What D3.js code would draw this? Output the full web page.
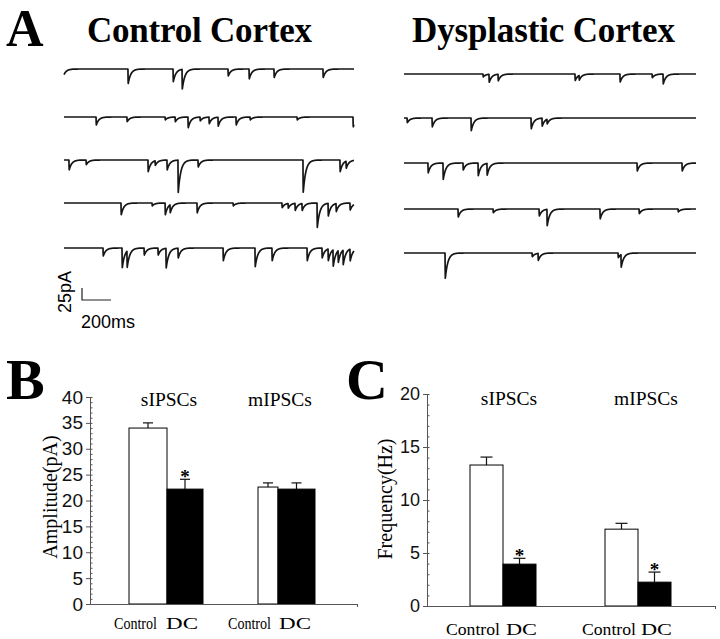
<!DOCTYPE html>
<html><head><meta charset="utf-8">
<script src="https://cdn.jsdelivr.net/npm/d3@7"></script>
<style>body{margin:0;background:#fff}svg{display:block}</style>
</head><body>
<svg id="fig" width="720" height="639"></svg>
<script>
// ================= DATA =================
const sweepDurationMs = 2000;
const controlSweeps = [
  [[-15,25],[441,31],[752,27],[814,42],[1131,15],[1276,21],[1448,18],[1786,18]],
  [[221,17],[434,10],[697,6],[766,10],[855,23],[938,8],[1000,14],[1062,19],[1186,17],[1283,6],[1607,6],[1993,21]],
  [[34,21],[152,10],[579,25],[628,10],[710,21],[786,69],[924,15],[1648,69],[1903,25],[1945,15]],
  [[393,25],[607,6],[697,25],[731,17],[917,21],[1166,6],[1503,10],[1545,10],[1593,15],[1641,15],[1745,52],[1821,27],[1876,17],[1972,15]],
  [[269,17],[400,42],[434,35],[552,15],[648,15],[703,42],[786,21],[1097,27],[1317,40],[1434,27],[1676,27],[1779,21],[1821,25],[1855,35],[1890,25],[1924,31],[1972,25]]
];
const dysplasticSweeps = [
  [[541,6],[582,17],[644,14],[1171,14],[1199,10],[1479,17],[1699,8],[1774,21]],
  [[21,10],[192,19],[459,27],[870,23],[945,17],[979,10]],
  [[164,21],[267,35],[404,15],[507,27],[568,25],[1596,17],[1904,17]],
  [[370,17],[610,8],[925,15],[979,35],[1342,21],[1610,10],[1877,6]],
  [[281,54],[877,8],[918,15],[1466,10],[1486,27]]
];
const scaleBarMs = 200;
const scaleBarPA = 25;

// Panels B and C: bar data (order: sIPSCs Control, sIPSCs DC, mIPSCs Control, mIPSCs DC)
const groups = ["sIPSCs", "mIPSCs"];
const conditions = ["Control", "DC"];
const amplitudeMean = [34.0, 22.2, 22.6, 22.2];
const amplitudeSem  = [1.0, 1.9, 0.8, 1.2];
const amplitudeSig  = [false, true, false, false];
const frequencyMean = [13.3, 3.95, 7.25, 2.25];
const frequencySem  = [0.75, 0.55, 0.55, 0.95];
const frequencySig  = [false, true, false, true];
const amplitudeTicks = [0, 5, 10, 15, 20, 25, 30, 35, 40];
const frequencyTicks = [0, 5, 10, 15, 20];

// ================= DRAWING =================
const svg = d3.select("#fig");
const SERIF = "'Liberation Serif','Times New Roman',serif";
const SANS = "'Liberation Sans',Arial,sans-serif";

// ---- Panel A ----
svg.append("text").attr("x", 6).attr("y", 46).attr("font-family", SERIF)
  .attr("font-weight", "bold").attr("font-size", 52).text("A");
svg.append("text").attr("x", 87).attr("y", 42).attr("font-family", SERIF)
  .attr("font-weight", "bold").attr("font-size", 35).attr("textLength", 225).text("Control Cortex");
svg.append("text").attr("x", 412).attr("y", 42).attr("font-family", SERIF)
  .attr("font-weight", "bold").attr("font-size", 35).attr("textLength", 263).text("Dysplastic Cortex");

const tau = 18, rise = 1.5;
function current(t, events) {
  let v = 0;
  for (const [t0, a] of events) {
    const dt = t - t0;
    if (dt < 0) continue;
    v += dt < rise ? a * dt / rise : a * Math.exp(-(dt - rise) / tau);
  }
  return v;
}
const sampleTimes = d3.range(0, sweepDurationMs + 1, 1);
const ampPx = d3.scaleLinear().domain([0, scaleBarPA]).range([0, 12]);

function drawSweeps(sweeps, xRange, baselines) {
  const x = d3.scaleLinear().domain([0, sweepDurationMs]).range(xRange);
  sweeps.forEach((ev, i) => {
    const line = d3.line().x(t => x(t)).y(t => baselines[i] + ampPx(current(t, ev)));
    svg.append("path").attr("d", line(sampleTimes)).attr("fill", "none")
      .attr("stroke", "#151515").attr("stroke-width", 1.7).attr("stroke-linejoin", "round");
  });
  return x;
}
const xCtrl = drawSweeps(controlSweeps, [64, 354], [69, 117, 160, 203, 248]);
drawSweeps(dysplasticSweeps, [404, 696], [74, 118, 163, 209, 253]);

// scale bar
const sbX = 82, sbY = 300;
const sbW = xCtrl(scaleBarMs) - xCtrl(0), sbH = ampPx(scaleBarPA);
svg.append("path").attr("d", `M${sbX},${sbY - sbH}V${sbY}H${sbX + sbW}`)
  .attr("fill", "none").attr("stroke", "#222").attr("stroke-width", 1.2);
svg.append("text").attr("transform", `translate(71,292) rotate(-90)`).attr("text-anchor", "middle")
  .attr("font-family", SANS).attr("font-size", 18).text(scaleBarPA + "pA");
svg.append("text").attr("x", 81).attr("y", 328).attr("font-family", SANS)
  .attr("font-size", 18).text(scaleBarMs + "ms");

// ---- Bar panels ----
function barPanel(o) {
  const g = svg.append("g");
  const y = d3.scaleLinear().domain(o.domain).range([o.y0, o.y1]);
  const keys = [];
  groups.forEach(gr => conditions.forEach(c => keys.push(gr + "|" + c)));
  const xL = d3.scaleOrdinal().domain(keys).range(o.left);
  const xR = d3.scaleOrdinal().domain(keys).range(o.right);
  const xLab = d3.scaleOrdinal().domain(keys).range(o.labelX);
  const xGroup = d3.scaleOrdinal().domain(groups).range(o.groupX);

  keys.forEach((k, i) => {
    const c = k.split("|")[1];
    const cx = (xL(k) + xR(k)) / 2;
    g.append("line").attr("x1", cx).attr("x2", cx).attr("y1", y(o.mean[i])).attr("y2", y(o.mean[i] + o.sem[i]))
      .attr("stroke", "#111").attr("stroke-width", 1.2);
    g.append("line").attr("x1", cx - o.cap).attr("x2", cx + o.cap)
      .attr("y1", y(o.mean[i] + o.sem[i])).attr("y2", y(o.mean[i] + o.sem[i]))
      .attr("stroke", "#111").attr("stroke-width", 1.2);
    g.append("rect").attr("x", xL(k)).attr("width", xR(k) - xL(k))
      .attr("y", y(o.mean[i])).attr("height", y(0) - y(o.mean[i]))
      .attr("fill", c === "DC" ? "#000" : "#fff").attr("stroke", "#000").attr("stroke-width", 1);
    if (o.sig[i]) {
      g.append("text").attr("x", cx).attr("y", y(o.mean[i] + o.sem[i]) + 4)
        .attr("text-anchor", "middle").attr("font-family", SERIF).attr("font-weight", "bold")
        .attr("font-size", 19).text("*");
    }
    g.append("text").attr("x", xLab(k)).attr("y", o.labelY).attr("font-family", SERIF)
      .attr("font-size", 17).attr("textLength", c === "DC" ? o.dcLen : o.ctrlLen)
      .attr("lengthAdjust", "spacingAndGlyphs").text(c);
  });
  groups.forEach(gr => {
    g.append("text").attr("x", xGroup(gr)).attr("y", o.groupY).attr("text-anchor", "middle")
      .attr("font-family", SERIF).attr("font-size", 19.5).text(gr);
  });

  const ax = g.append("g").attr("transform", `translate(${o.xAxis},0)`);
  ax.call(d3.axisLeft(y).tickValues(o.ticks).tickSize(4).tickSizeOuter(0).tickPadding(3));
  ax.selectAll("text").attr("font-family", SANS).attr("font-size", o.tickFont).attr("fill", "#111");
  const mn = g.append("g").attr("transform", `translate(${o.xAxis},0)`);
  mn.call(d3.axisLeft(y).tickValues(d3.range(o.domain[0], o.domain[1] + 1, 1)).tickSize(-2.5).tickSizeOuter(0).tickFormat(""));
  mn.select(".domain").remove();
  g.selectAll(".domain, .tick line").attr("stroke", "#555");

  const xs = d3.scaleLinear().domain([0, 1]).range([o.xAxis, o.xEnd]);
  const xa = g.append("g").attr("transform", `translate(0,${y(0)})`)
    .call(d3.axisBottom(xs).tickValues([1]).tickSize(3).tickSizeOuter(0).tickFormat(""));
  xa.selectAll(".domain, .tick line").attr("stroke", "#555");

  g.append("text").attr("transform", `translate(${o.yLabX},${o.yLabY}) rotate(-90)`)
    .attr("text-anchor", "middle").attr("font-family", SERIF).attr("font-size", 20).text(o.yLabel);
  svg.append("text").attr("x", o.letterX).attr("y", 399).attr("font-family", SERIF)
    .attr("font-weight", "bold").attr("font-size", 58).text(o.letter);
}

barPanel({
  letter: "B", letterX: 6,
  domain: [0, 40], y0: 604, y1: 397, ticks: amplitudeTicks, tickFont: 19,
  xAxis: 90, xEnd: 357,
  left: [129, 167, 258, 278], right: [167, 203, 278, 315],
  labelX: [114, 166, 228, 279], labelY: 629, ctrlLen: 43, dcLen: 32,
  groupX: [169, 280], groupY: 406,
  mean: amplitudeMean, sem: amplitudeSem, sig: amplitudeSig, cap: 5,
  yLabel: "Amplitude(pA)", yLabX: 57, yLabY: 497
});
barPanel({
  letter: "C", letterX: 346,
  domain: [0, 20], y0: 606, y1: 394, ticks: frequencyTicks, tickFont: 18,
  xAxis: 427, xEnd: 715,
  left: [470, 503, 605, 638], right: [503, 536, 638, 671],
  labelX: [446, 506, 582, 641], labelY: 635, ctrlLen: 54, dcLen: 31,
  groupX: [509, 646], groupY: 405,
  mean: frequencyMean, sem: frequencySem, sig: frequencySig, cap: 6,
  yLabel: "Frequency(Hz)", yLabX: 392, yLabY: 499
});
</script>
</body></html>
